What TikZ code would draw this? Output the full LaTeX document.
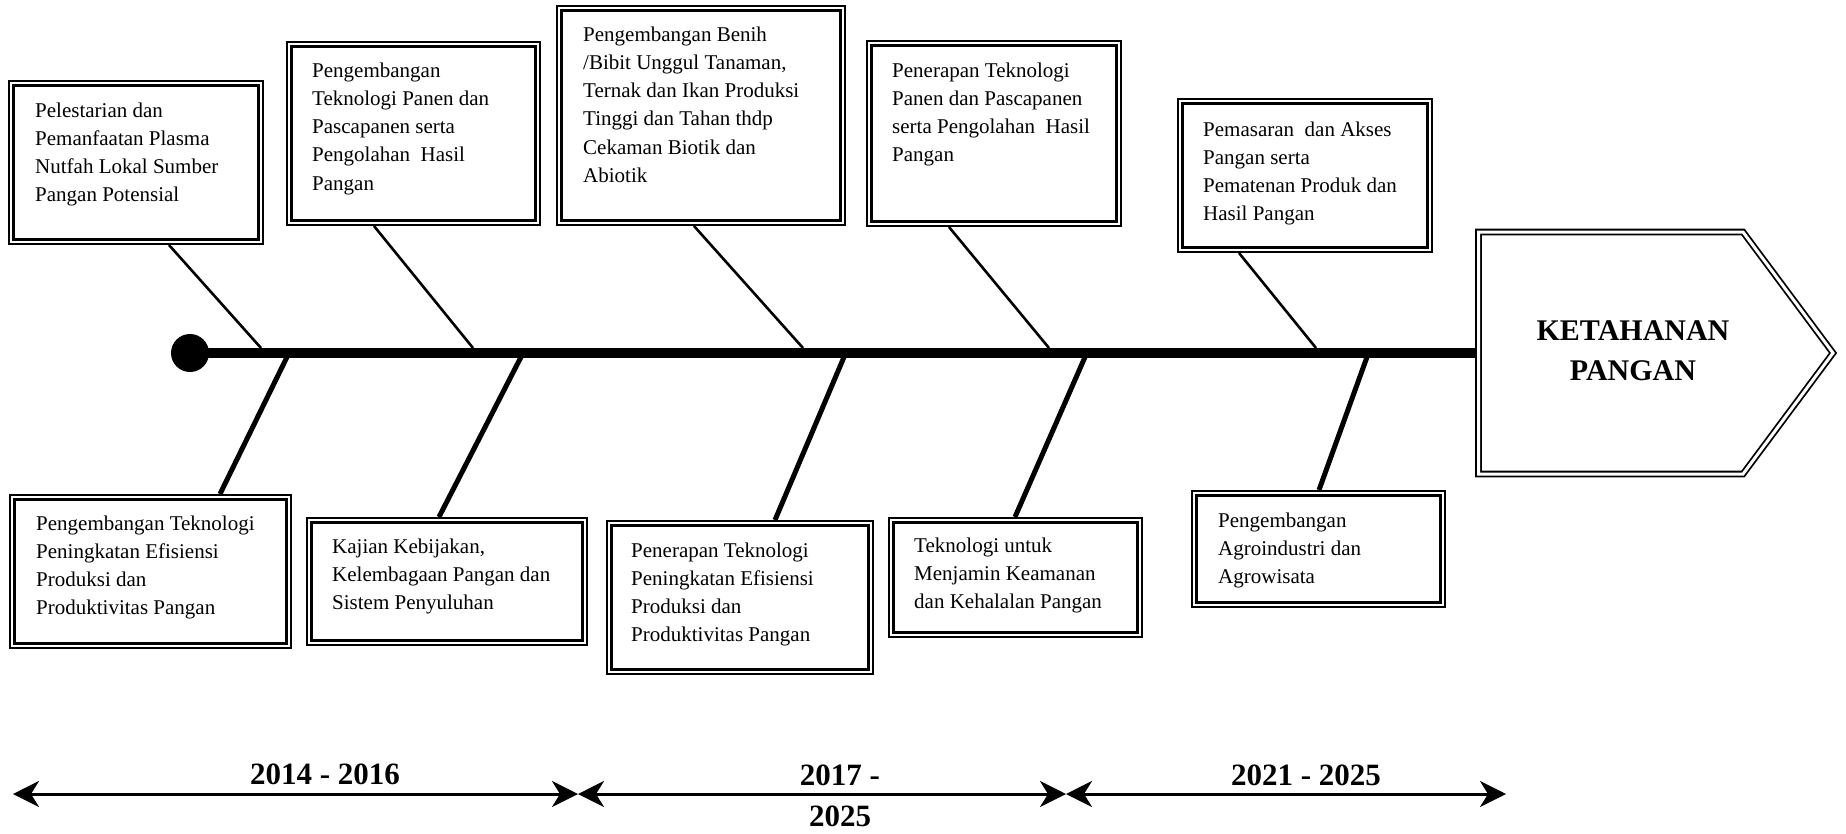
\documentclass[tikz,border=0pt]{standalone}
\usepackage{fontspec}
\setmainfont{Liberation Serif}
\usetikzlibrary{arrows.meta}
\tikzset{
  dbox/.style={draw, double, line width=2.2pt, double distance=2.2pt, inner sep=0pt, rectangle},
  txt/.style={anchor=base west, inner sep=0pt, font=\fontsize{21}{28.3}\selectfont},
  thinc/.style={line width=2.6pt},
  thickc/.style={line width=5pt},
  yr/.style={anchor=base, inner sep=0pt, font=\fontsize{31}{41}\selectfont\bfseries},
  tl/.style={line width=3pt, {Stealth[length=26pt,width=26pt,inset=8pt]}-{Stealth[length=26pt,width=26pt,inset=8pt]}},
}
\newcommand{\tb}[1]{\parbox[t]{270pt}{#1}}
\begin{document}
\begin{tikzpicture}[x=1pt,y=-1pt]
\useasboundingbox (0,0) rectangle (1846,833);

% spine
\node[circle, fill, minimum size=38pt, inner sep=0pt] (dot) at (190,353) {};
\coordinate (spe) at (1478,353);
\draw[line width=9.5pt] (dot.center) -- (spe);

% goal arrow
\draw[double, line width=1.8pt, double distance=3pt, line join=miter]
  (1478.5,232) -- (1743,232) -- (1833,353) -- (1743,474) -- (1478.5,474) -- cycle;
\node[anchor=base, inner sep=0pt, font=\fontsize{30}{40}\selectfont\bfseries] (goal) at (1633,340)
  {\parbox[t]{260pt}{\centering KETAHANAN\\PANGAN}};

% top boxes
\node[dbox, minimum width=249.4pt, minimum height=158.4pt] (t1) at (136,162.5) {};
\node[txt] (t1x) at (35,117) {\tb{Pelestarian dan\\Pemanfaatan Plasma\\Nutfah Lokal Sumber\\Pangan Potensial}};

\node[dbox, minimum width=248.4pt, minimum height=178.4pt] (t2) at (413.5,133.5) {};
\node[txt] (t2x) at (312,77) {\tb{Pengembangan\\Teknologi Panen dan\\Pascapanen serta\\Pengolahan\ \ Hasil\\Pangan}};

\node[dbox, minimum width=283.4pt, minimum height=214.4pt] (t3) at (701,115.5) {};
\node[txt] (t3x) at (583,41) {\tb{Pengembangan Benih\\/Bibit Unggul Tanaman,\\Ternak dan Ikan Produksi\\Tinggi dan Tahan thdp\\Cekaman Biotik dan\\Abiotik}};

\node[dbox, minimum width=249.4pt, minimum height=180.4pt] (t4) at (994,133.5) {};
\node[txt] (t4x) at (892,77) {\tb{Penerapan Teknologi\\Panen dan Pascapanen\\serta Pengolahan\ \ Hasil\\Pangan}};

\node[dbox, minimum width=249.4pt, minimum height=148.4pt] (t5) at (1305,175.5) {};
\node[txt] (t5x) at (1203,136) {\tb{Pemasaran\ \ dan Akses\\Pangan serta\\Pematenan Produk dan\\Hasil Pangan}};

% bottom boxes
\node[dbox, minimum width=276.4pt, minimum height=148.4pt] (b1) at (150.5,571.5) {};
\node[txt] (b1x) at (36,530) {\tb{Pengembangan Teknologi\\Peningkatan Efisiensi\\Produksi dan\\Produktivitas Pangan}};

\node[dbox, minimum width=275.4pt, minimum height=122.4pt] (b2) at (447,581.5) {};
\node[txt] (b2x) at (332,553) {\tb{Kajian Kebijakan,\\Kelembagaan Pangan dan\\Sistem Penyuluhan}};

\node[dbox, minimum width=261.4pt, minimum height=148.4pt] (b3) at (740,597.5) {};
\node[txt] (b3x) at (631,557) {\tb{Penerapan Teknologi\\Peningkatan Efisiensi\\Produksi dan\\Produktivitas Pangan}};

\node[dbox, minimum width=248.4pt, minimum height=114.4pt] (b4) at (1015.5,577.5) {};
\node[txt] (b4x) at (914,552) {\tb{Teknologi untuk\\Menjamin Keamanan\\dan Kehalalan Pangan}};

\node[dbox, minimum width=248.4pt, minimum height=111.4pt] (b5) at (1318.5,549) {};
\node[txt] (b5x) at (1218,527) {\tb{Pengembangan\\Agroindustri dan\\Agrowisata}};

% connector end points
\coordinate (p1) at (169,245); \coordinate (q1) at (261,348);
\coordinate (p2) at (374,226); \coordinate (q2) at (473,348);
\coordinate (p3) at (694,226); \coordinate (q3) at (803,348);
\coordinate (p4) at (949,227); \coordinate (q4) at (1049,348);
\coordinate (p5) at (1239,253); \coordinate (q5) at (1316,348);
\coordinate (r1) at (287,357); \coordinate (s1) at (220,494);
\coordinate (r2) at (521,357); \coordinate (s2) at (439,517);
\coordinate (r3) at (844,357); \coordinate (s3) at (775,520);
\coordinate (r4) at (1085,357); \coordinate (s4) at (1015,517);
\coordinate (r5) at (1367,357); \coordinate (s5) at (1319,490);

\draw[thinc] (p1) -- (q1);
\draw[thinc] (p2) -- (q2);
\draw[thinc] (p3) -- (q3);
\draw[thinc] (p4) -- (q4);
\draw[thinc] (p5) -- (q5);
\draw[thickc] (r1) -- (s1);
\draw[thickc] (r2) -- (s2);
\draw[thickc] (r3) -- (s3);
\draw[thickc] (r4) -- (s4);
\draw[thickc] (r5) -- (s5);

% timeline
\coordinate (a0) at (13,794);
\coordinate (a1) at (578,794);
\coordinate (a2) at (1066,794);
\coordinate (a3) at (1506,794);
\draw[tl] (a0) -- (a1);
\draw[tl] (a1) -- (a2);
\draw[tl] (a2) -- (a3);
\node[yr] (y1) at (325,784) {2014 - 2016};
\node[yr] (y2) at (840,785) {\parbox[t]{140pt}{\centering 2017 -\\2025}};
\node[yr] (y3) at (1306,785) {2021 - 2025};
\end{tikzpicture}
\end{document}
